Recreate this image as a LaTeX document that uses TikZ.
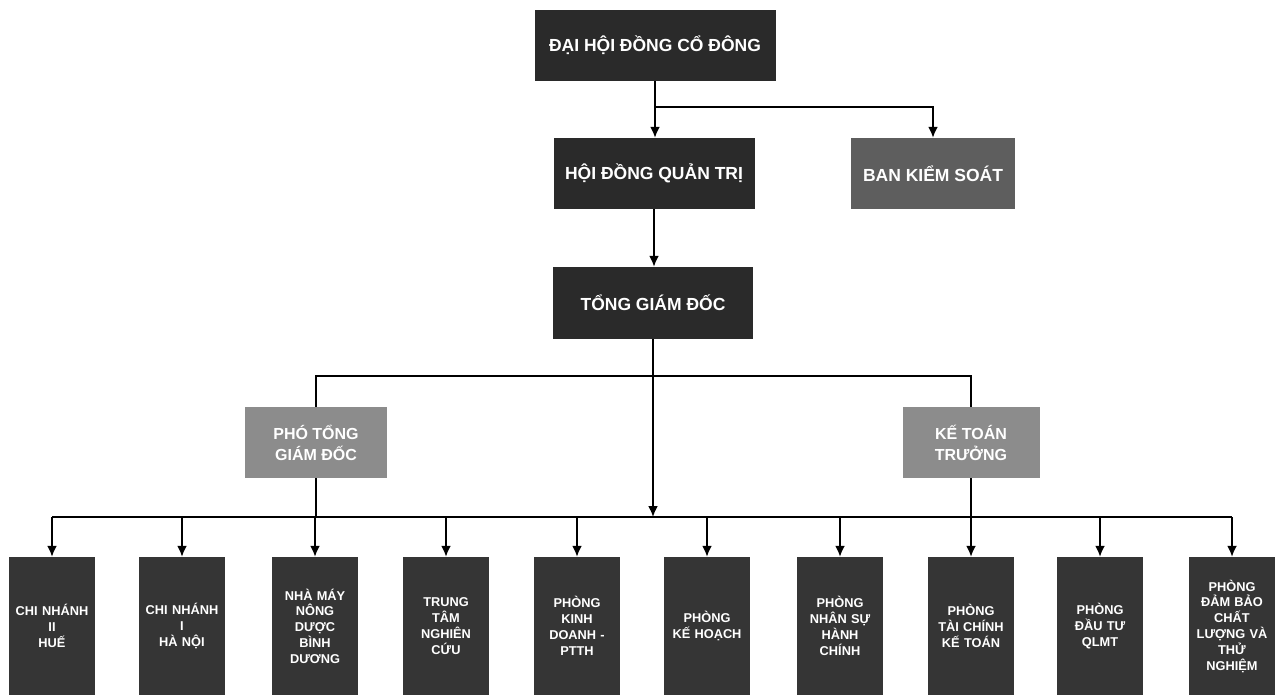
\documentclass[tikz,border=0pt]{standalone}
\usepackage{fontspec}
\setmainfont{Liberation Sans}
\usetikzlibrary{arrows.meta}
\definecolor{boxdark}{HTML}{2A2A2A}
\definecolor{boxmid}{HTML}{5E5E5E}
\definecolor{boxlight}{HTML}{8C8C8C}
\tikzset{
  px/.style={x=1pt, y=-1pt},
  topbox/.style={fill=boxdark, text=white, inner sep=0pt, minimum height=71pt,
                 font=\bfseries\fontsize{17.5}{21}\selectfont},
  grbox/.style={topbox, fill=boxmid},                                  % control board
  vicebox/.style={fill=boxlight, text=white, inner sep=0pt, align=center,
                  minimum height=71pt, font=\bfseries\fontsize{16}{21}\selectfont},
  unitbox/.style={fill=boxdark!95!white, text=white, inner sep=0pt, align=center,
                  minimum width=86pt, minimum height=138pt, text width=84pt,
                  font=\bfseries\fontsize{12.8}{15.8}\selectfont},     % bottom row units
  link/.style={black, line width=1.9pt},
  arr/.style={link, -{Latex[length=11pt, width=10pt]}},
}

\begin{document}
\begin{tikzpicture}[px]
  \useasboundingbox (0,0) rectangle (1282,695);

  % --- top levels ---
  \node[topbox, minimum width=241pt] (dhdc) at (655,45.5) {ĐẠI HỘI ĐỒNG CỔ ĐÔNG};
  \node[topbox, minimum width=201pt] (hdqt) at (654,173.5) {HỘI ĐỒNG QUẢN TRỊ};
  \node[grbox, minimum width=164pt]  (bks)  at (933,173.5) {BAN KIỂM SOÁT};
  \node[topbox, minimum width=200pt, minimum height=72pt] (tgd) at (653,303) {TỔNG GIÁM ĐỐC};

  % --- deputies ---
  \node[vicebox, minimum width=142pt] (ptgd) at (316,442.5) {PHÓ TỔNG\\GIÁM ĐỐC};
  \node[vicebox, minimum width=137pt] (ktt)  at (971,442.5) {KẾ TOÁN\\TRƯỞNG};

  % --- units (bottom row) ---
  \node[unitbox] (cnhue) at (52,626)   {CHI NHÁNH\\II\\HUẾ};
  \node[unitbox] (cnhn)  at (182,626)  {CHI NHÁNH\\I\\HÀ NỘI};
  \node[unitbox] (nmbd)  at (315,626)  {NHÀ MÁY\\NÔNG\\DƯỢC\\BÌNH\\DƯƠNG};
  \node[unitbox] (ttnc)  at (446,626)  {TRUNG\\TÂM\\NGHIÊN\\CỨU};
  \node[unitbox] (pkd)   at (577,626)  {PHÒNG\\KINH\\DOANH -\\PTTH};
  \node[unitbox] (pkh)   at (707,626)  {PHÒNG\\KẾ HOẠCH};
  \node[unitbox] (pns)   at (840,626)  {PHÒNG\\NHÂN SỰ\\HÀNH\\CHÍNH};
  \node[unitbox] (ptckt) at (971,626)  {PHÒNG\\TÀI CHÍNH\\KẾ TOÁN};
  \node[unitbox] (pdt)   at (1100,626) {PHÒNG\\ĐẦU TƯ\\QLMT};
  \node[unitbox] (pdbcl) at (1232,626) {PHÒNG\\ĐẢM BẢO\\CHẤT\\LƯỢNG VÀ\\THỬ\\NGHIỆM};

  % --- junction points ---
  \coordinate (j1)  at (655,107);
  \coordinate (j2)  at (653,376);
  \coordinate (bus) at (653,517);

  % --- connectors ---
  \draw[arr] (dhdc.south) -- (dhdc.south |- hdqt.north);
  \draw[arr] (j1) -| (bks.north);
  \draw[arr] (hdqt.south) -- (hdqt.south |- tgd.north);
  \draw[link] (tgd.south) -- (j2);
  \draw[link] (ptgd.north) |- (j2) -| (ktt.north);
  \draw[arr] (j2) -- (bus);
  \draw[link] (cnhue.north |- bus) -- (pdbcl.north |- bus);
  \draw[link] (ptgd.south) -- (ptgd.south |- bus);
  \draw[link] (ktt.south) -- (ktt.south |- bus);
  \foreach \u in {cnhue,cnhn,nmbd,ttnc,pkd,pkh,pns,ptckt,pdt,pdbcl}
    \draw[arr] (\u.north |- bus) -- (\u.north);
\end{tikzpicture}
\end{document}
